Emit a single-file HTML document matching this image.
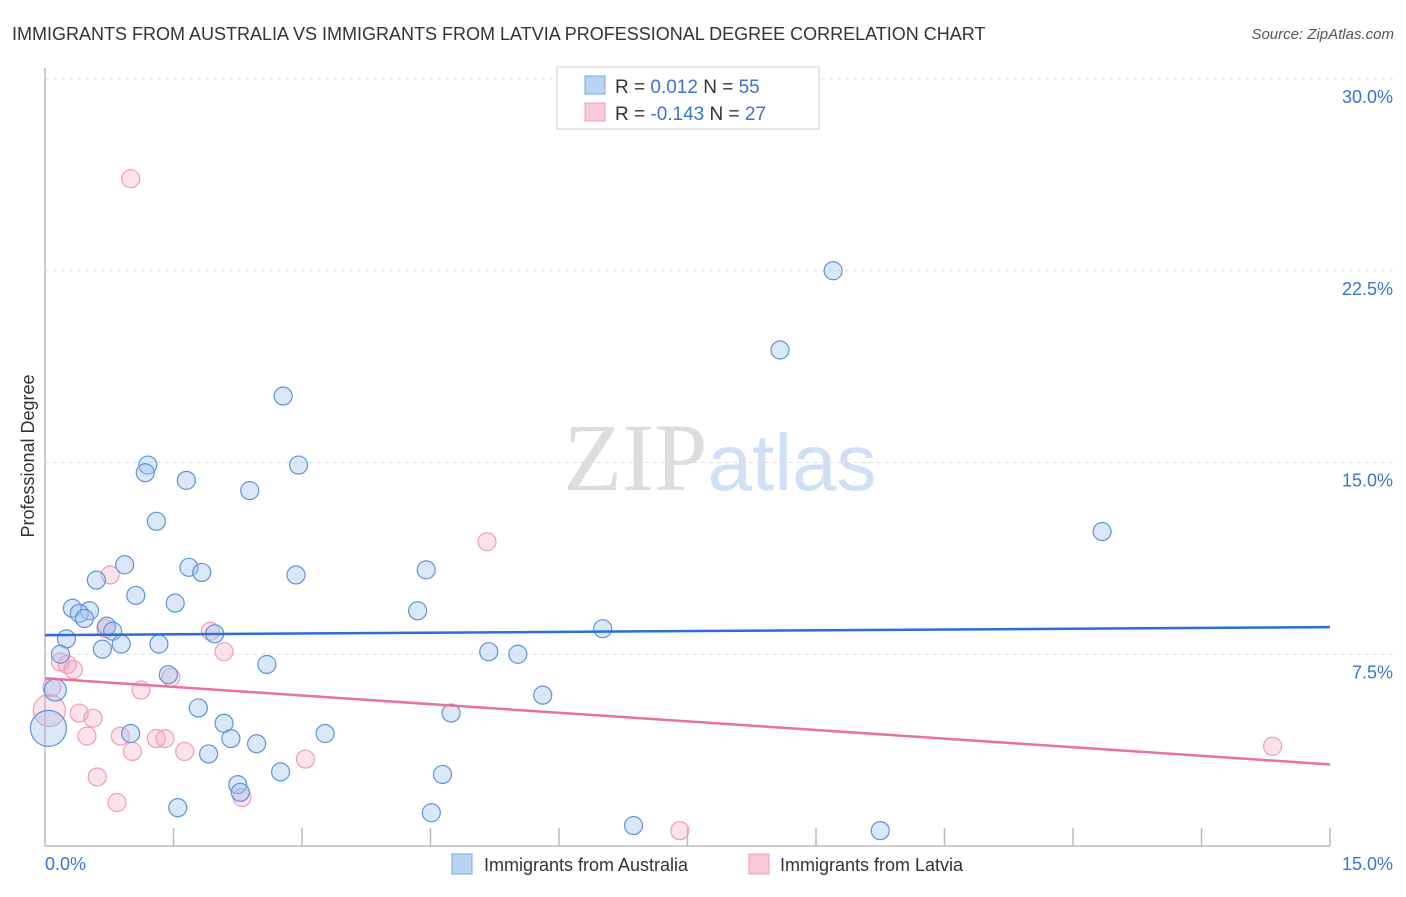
<!DOCTYPE html>
<html><head><meta charset="utf-8"><style>
body{margin:0;background:#fff;font-family:"Liberation Sans",sans-serif;}
svg text{font-family:"Liberation Sans",sans-serif;}
</style></head><body>
<svg id="chart" width="1406" height="892" xmlns="http://www.w3.org/2000/svg">
<text x="12" y="40" font-size="18" fill="#333">IMMIGRANTS FROM AUSTRALIA VS IMMIGRANTS FROM LATVIA PROFESSIONAL DEGREE CORRELATION CHART</text>
<text x="1394" y="39" font-size="15" fill="#555" font-style="italic" text-anchor="end">Source: ZipAtlas.com</text>
<text x="720" y="490" font-size="96" text-anchor="middle"><tspan fill="#ddd" font-family="Liberation Serif">ZIP</tspan><tspan fill="#cfe0f5" font-size="80">atlas</tspan></text>
<g id="grid"></g>
<line x1="45" y1="68" x2="45" y2="846" stroke="#bbb" stroke-width="1.5"/>
<line x1="45" y1="846" x2="1330" y2="846" stroke="#bbb" stroke-width="1.5"/>
<text transform="translate(34,456) rotate(-90)" font-size="18" fill="#333" text-anchor="middle">Professional Degree</text>
<text x="45" y="870" font-size="18" fill="#3b73d1">0.0%</text>
<text x="1393" y="870" font-size="18" fill="#3b73d1" text-anchor="end">15.0%</text>
<g id="points"></g>
<g id="trends"></g>
<g>
<rect x="557" y="67" width="262" height="62" fill="#fff" stroke="#ccc"/>
<rect x="585" y="76" width="20" height="18" fill="#b9d3f3" stroke="#7aa7e0"/>
<rect x="585" y="103" width="20" height="18" fill="#f9c9d8" stroke="#ef9db8"/>
<text x="615" y="93" font-size="19" fill="#333">R = <tspan fill="#3b73d1"> 0.012</tspan>   N = <tspan fill="#3b73d1">55</tspan></text>
<text x="615" y="120" font-size="19" fill="#333">R = <tspan fill="#3b73d1">-0.143</tspan>   N = <tspan fill="#3b73d1">27</tspan></text>
</g>
<g>
<rect x="452" y="854" width="20" height="20" fill="#b9d3f3" stroke="#7aa7e0"/>
<text x="484" y="871" font-size="18" fill="#333">Immigrants from Australia</text>
<rect x="749" y="854" width="20" height="20" fill="#f9c9d8" stroke="#ef9db8"/>
<text x="780" y="871" font-size="18" fill="#333">Immigrants from Latvia</text>
</g>
</svg>
<script>
const yTicks=[7.5,15,22.5,30];
const xTicks=[0,1.5,3,4.5,6,7.5,9,10.5,12,13.5,15];
const ausX=[9.2,8.58,2.78,1.2,1.17,2.96,1.65,2.39,1.3,12.34,0.93,1.68,1.83,0.6,2.93,4.45,1.06,1.52,0.32,0.52,0.4,0.46,4.35,0.72,0.79,1.98,6.51,0.25,0.89,1.33,0.67,0.18,5.18,5.52,2.59,1.44,0.12,5.81,1.79,4.74,2.09,1.0,3.27,2.17,2.47,0.04,1.91,4.64,2.75,2.25,2.28,1.55,4.51,6.87,9.75];
const ausY=[22.5,19.4,17.6,14.9,14.6,14.9,14.3,13.9,12.7,12.3,11.0,10.9,10.7,10.4,10.6,10.8,9.8,9.5,9.3,9.2,9.1,8.9,9.2,8.6,8.4,8.3,8.5,8.1,7.9,7.9,7.7,7.5,7.6,7.5,7.1,6.7,6.1,5.9,5.4,5.2,4.8,4.4,4.4,4.2,4.0,4.6,3.6,2.8,2.9,2.4,2.1,1.5,1.3,0.8,0.6];
const ausR=[9,9,9,9,9,9,9,9,9,9,9,9,9,9,9,9,9,9,9,9,9,9,9,9,9,9,9,9,9,9,9,9,9,9,9,9,11,9,9,9,9,9,9,9,9,18,9,9,9,9,9,9,9,9,9];
const latX=[1.0,5.16,0.76,0.71,1.93,2.09,0.18,0.26,0.33,1.47,1.12,0.08,0.05,0.4,0.56,0.49,0.88,1.02,1.3,1.4,1.63,3.04,0.61,0.84,2.3,7.41,14.33];
const latY=[26.1,11.9,10.6,8.5,8.4,7.6,7.2,7.1,6.9,6.6,6.1,6.2,5.3,5.2,5.0,4.3,4.3,3.7,4.2,4.2,3.7,3.4,2.7,1.7,1.9,0.6,3.9];
const latR=[9,9,9,9,9,9,9,9,9,9,9,9,16,9,9,9,9,9,9,9,9,9,9,9,9,9,9];
const ausTrend=[8.25,8.56];
const latTrend=[6.56,3.19];
const NS="http://www.w3.org/2000/svg";
const xs=v=>45+v/15*1285;
const ys=v=>846-v/30*767;
function mk(tag,attrs,parent){const e=document.createElementNS(NS,tag);for(const k in attrs)e.setAttribute(k,attrs[k]);parent.appendChild(e);return e;}
const grid=document.getElementById('grid');
yTicks.forEach(t=>{
 const l=mk('line',{x1:45,x2:1393,y1:ys(t),y2:ys(t),stroke:'#ddd','stroke-dasharray':'4,4'},grid);
 
 
 const tx=mk('text',{x:1393,y:ys(t)+24,'font-size':18,fill:'#3b73d1','text-anchor':'end'},grid);
 tx.textContent=t.toFixed(1)+'%';
 
 
});
xTicks.forEach((t,i)=>{
 if(i===0)return;
 const l=mk('line',{x1:xs(t),x2:xs(t),y1:828,y2:846,stroke:'#bbb','stroke-width':1.5},grid);
 
 
});
const pts=document.getElementById('points');
latX.forEach((v,i)=>{
 const c=mk('circle',{cx:xs(v),cy:ys(latY[i]),r:latR[i],fill:'rgba(244,160,188,0.3)',stroke:'#ef9db8','stroke-width':1.2},pts);
 
 
});
ausX.forEach((v,i)=>{
 const c=mk('circle',{cx:xs(v),cy:ys(ausY[i]),r:ausR[i],fill:'rgba(160,196,240,0.4)',stroke:'#5f93d8','stroke-width':1.2},pts);
 
 
});
const tr=document.getElementById('trends');
const a=mk('line',{x1:xs(0),x2:xs(15),y1:ys(ausTrend[0]),y2:ys(ausTrend[1]),stroke:'#2a6fd6','stroke-width':2.5},tr);


const b=mk('line',{x1:xs(0),x2:xs(15),y1:ys(latTrend[0]),y2:ys(latTrend[1]),stroke:'#e8739a','stroke-width':2.5},tr);


</script>
</body></html>
